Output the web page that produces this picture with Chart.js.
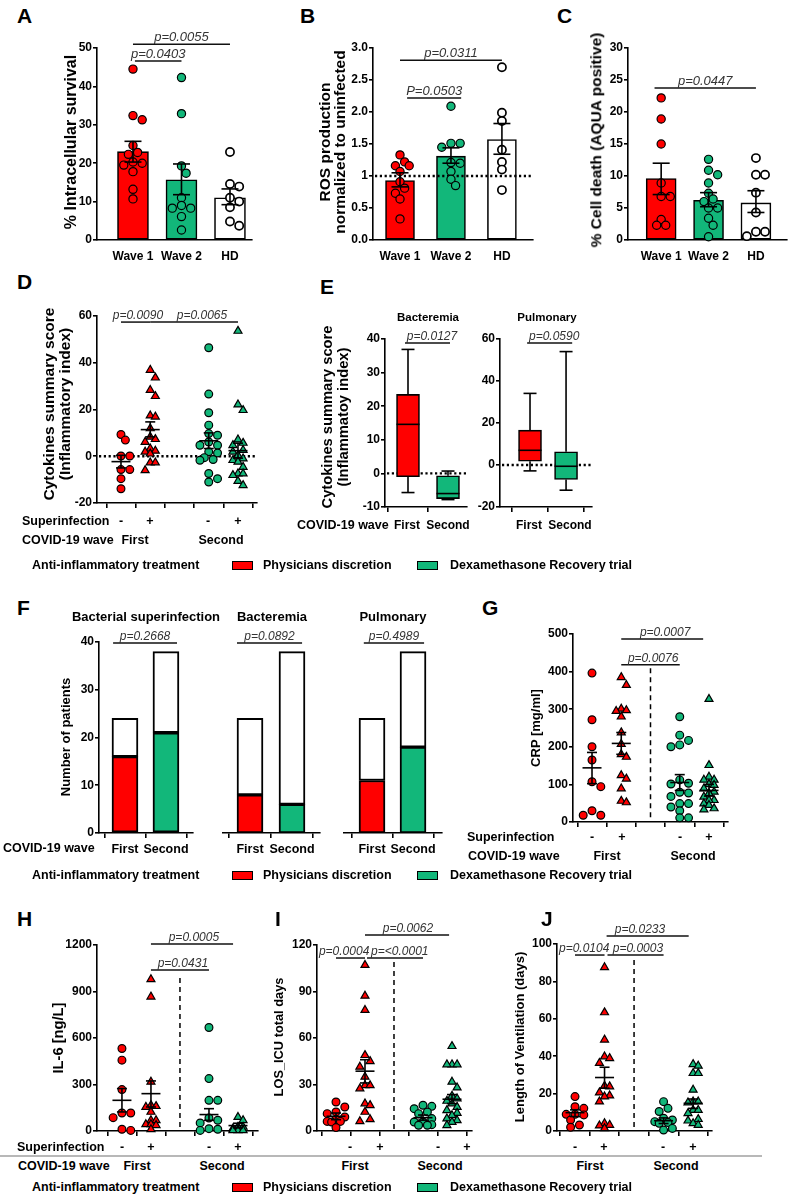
<!DOCTYPE html>
<html><head><meta charset="utf-8">
<script src="https://cdn.jsdelivr.net/npm/chart.js@4.4.0/dist/chart.umd.min.js"></script>
<style>
html,body{margin:0;padding:0;background:#fff;overflow:hidden}
#root{position:relative;width:793px;height:1199px;overflow:hidden;background:#fff}
canvas{position:absolute}
.t{position:absolute;white-space:nowrap;line-height:1;color:#000;font-family:"Liberation Sans",Arial,Helvetica,sans-serif;font-weight:bold}
</style></head><body><div id="root"></div>
<script>
// ---------------- DATA ----------------
const waveCats = ['Wave 1', 'Wave 2', 'HD'];
const waveLabels = ['First', 'Second'];
const superLabels = ['-', '+', '-', '+'];

// Panel A: % intracellular survival
const A_means = [23.0, 15.7, 11.0];
const A_semLo = [20.3, 11.8, 9.2];
const A_semHi = [25.7, 19.8, 13.3];
const A_wave1 = [44.5, 32.4, 31.3, 24.6, 22.8, 22.3, 20.3, 20.0, 19.5, 17.8, 13.2, 10.7];
const A_wave2 = [42.3, 32.9, 19.3, 17.4, 11.0, 9.0, 8.3, 8.3, 6.1, 2.6];
const A_hd = [22.9, 14.6, 13.9, 11.0, 10.0, 8.5, 4.8, 3.7];
const A_yTicks = [0, 10, 20, 30, 40, 50];

// Panel B: ROS production
const B_means = [0.93, 1.31, 1.57];
const B_semLo = [0.83, 1.20, 1.34];
const B_semHi = [1.05, 1.44, 1.82];
const B_wave1 = [1.33, 1.22, 1.16, 1.16, 1.07, 0.91, 0.81, 0.73, 0.64, 0.33];
const B_wave2 = [2.09, 1.51, 1.51, 1.45, 1.21, 1.20, 1.07, 0.95, 0.85];
const B_hd = [2.70, 1.99, 1.86, 1.41, 1.22, 1.10, 0.78];
const B_yTicks = [0, 0.5, 1, 1.5, 2, 2.5, 3];
const B_yLabels = ['0.0', '0.5', '1', '1.5', '2.0', '2.5', '3.0'];

// Panel C: % cell death
const C_means = [9.6, 6.2, 5.8];
const C_semLo = [7.1, 5.2, 4.3];
const C_semHi = [12.0, 7.4, 7.7];
const C_wave1 = [22.2, 18.9, 15.0, 8.9, 6.8, 6.8, 3.2, 2.3, 2.3];
const C_wave2 = [12.6, 10.9, 10.2, 8.9, 7.3, 6.4, 6.0, 5.0, 5.0, 3.4, 2.3, 0.5];
const C_hd = [12.8, 10.2, 10.2, 7.4, 4.3, 1.3, 1.3, 0.6];
const C_yTicks = [0, 5, 10, 15, 20, 25, 30];

// Panel D: cytokines summary score
const D_firstNeg = [9.3, 6.9, 0.1, 0.1, -5.7, -5.7, -9.6, -13.9];
const D_firstPos = [36.9, 33.6, 28.3, 25.7, 17.4, 16.9, 11.9, 8.3, 7.3, 6.1, 3.3, 2.3, 1.9, 1.1, -2.7, -2.7, -6.0];
const D_secondNeg = [46.4, 26.6, 18.6, 13.3, 9.7, 9.0, 6.1, 4.7, 4.7, 1.9, 1.4, -0.6, -1.4, -1.7, -7.4, -9.6, -11.0];
const D_secondPos = [53.6, 22.1, 19.7, 7.1, 5.7, 4.7, 2.6, 1.9, 0.4, -1.0, -1.7, -2.4, -4.6, -7.4, -7.4, -8.1, -10.6, -12.4];
const D_mean = [-2.3, 11.4, 6.6, 2.4];
const D_semLo = [-5.0, 8.3, 3.3, -0.8];
const D_semHi = [0.4, 14.7, 10.0, 5.6];
const D_yTicks = [-20, 0, 20, 40, 60];

// Panel E: box plots (min, q1, median, q3, max) for First / Second wave
const E_bactMin = [-5.7, -7.8], E_bactQ1 = [-1.0, -7.5], E_bactMed = [14.6, -6.0], E_bactQ3 = [23.5, -0.7], E_bactMax = [36.9, 0.7];
const E_pulmMin = [-2.8, -12.0], E_pulmQ1 = [1.8, -6.9], E_pulmMed = [7.0, -0.6], E_pulmQ3 = [16.6, 6.3], E_pulmMax = [34.1, 54.0];
const E_bactTicks = [-10, 0, 10, 20, 30, 40];
const E_pulmTicks = [-20, 0, 20, 40, 60];

// Panel F: number of patients (total per wave, and treated part)
const F_total = [24, 38];
const F_superinfection = [16, 21];
const F_bacteremia = [8, 6];
const F_pulmonary = [11, 18];
const F_yTicks = [0, 10, 20, 30, 40];

// Panel G: CRP
const G_firstNeg = [396, 272, 200, 165, 107, 94, 30, 18, 18];
const G_firstPos = [385, 364, 301, 297, 295, 280, 238, 207, 180, 173, 124, 115, 89, 56, 52];
const G_secondNeg = [280, 231, 217, 205, 200, 112, 103, 101, 79, 77, 68, 49, 49, 40, 30, 11, 11];
const G_secondPos = [327, 151, 120, 112, 112, 100, 98, 89, 80, 76, 67, 58, 58, 49, 45, 36, 33];
const G_mean = [144, 209, 105, 84];
const G_semLo = [102, 180, 84, 69];
const G_semHi = [185, 238, 126, 100];
const G_yTicks = [0, 100, 200, 300, 400, 500];

// Panel H: IL-6
const H_firstNeg = [532, 457, 267, 116, 116, 86, 11, 4];
const H_firstPos = [978, 866, 317, 166, 160, 155, 123, 69, 69, 43, 43, 37, 11];
const H_secondNeg = [668, 338, 198, 198, 84, 69, 52, 15, 11, 4];
const H_secondPos = [90, 69, 26, 26, 15, 4, 4, 4];
const H_mean = [198, 241, 106, 35];
const H_semLo = [123, 155, 69, 20];
const H_semHi = [274, 323, 144, 50];
const H_yTicks = [0, 300, 600, 900, 1200];

// Panel I: LOS ICU
const I_firstNeg = [18.7, 15.5, 12.3, 11.2, 9.0, 7.5, 6.2, 6.2, 5.8, 2.2];
const I_firstPos = [107, 87.2, 78, 48.9, 45, 41.4, 34.9, 29.5, 29.5, 27.4, 17.7, 16.6, 12.3, 7.5, 6.2];
const I_secondNeg = [16.6, 15.9, 14.4, 12.3, 11.2, 8.0, 5.8, 5.8, 4.1, 3.7, 3.7];
const I_secondPos = [54.7, 42.9, 42.9, 42.9, 31.7, 28.0, 22.6, 20.9, 19.4, 17.7, 15.5, 13.4, 11.6, 10.1, 8.0, 6.9, 5.8, 3.7];
const I_mean = [9.5, 38.6, 8.6, 20.5];
const I_semLo = [7.3, 31.0, 7.0, 17.7];
const I_semHi = [11.6, 46.0, 10.3, 23.5];
const I_yTicks = [0, 30, 60, 90, 120];

// Panel J: length of ventilation
const J_firstNeg = [18.4, 13.0, 12.1, 8.9, 8.9, 8.6, 5.9, 3.2, 2.0];
const J_firstPos = [87.5, 63.4, 48.8, 39.8, 38.9, 36.3, 24.1, 23.8, 20.5, 18.9, 18.4, 15.7, 4.1, 3.2, 2.9, 1.4];
const J_secondNeg = [15.7, 12.1, 10.4, 6.8, 5.9, 5.0, 4.5, 4.1, 1.4, 0.5];
const J_secondPos = [35.7, 34.8, 30.9, 30.9, 22.0, 15.7, 15.7, 15.2, 11.2, 11.2, 9.5, 6.3, 5.5, 4.1, 3.2];
const J_mean = [9.8, 28.6, 5.5, 14.8];
const J_semLo = [7.7, 22.9, 4.0, 12.1];
const J_semHi = [11.3, 34.1, 7.0, 17.1];
const J_yTicks = [0, 20, 40, 60, 80, 100];

// ---------------- RENDERING ----------------
const FF = '"Liberation Sans", Arial, Helvetica, sans-serif';
Chart.defaults.font.family = FF;
Chart.defaults.font.weight = 'bold';
Chart.defaults.font.size = 12;
Chart.defaults.color = '#000';
const RED = '#ff0000', GREEN = '#12b77a', WHITE = '#ffffff';
const root = document.getElementById('root');

function T(x, y, s, css, al) {
  const d = document.createElement('div');
  d.className = 't'; d.textContent = s;
  const tx = al === 'l' ? '0' : al === 'r' ? '-100%' : '-50%';
  d.style.cssText = `left:${x}px;top:${y}px;transform:translate(${tx},-50%);font-size:12.5px;` + (css || '');
  root.appendChild(d);
}
function RT(x, y, lines, size, lh) {
  const d = document.createElement('div');
  d.className = 't';
  lines.forEach((l, i) => { if (i) d.appendChild(document.createElement('br')); d.appendChild(document.createTextNode(l)); });
  d.style.cssText = `left:${x}px;top:${y}px;transform:translate(-50%,-50%) rotate(-90deg);text-align:center;font-size:${size}px;line-height:${lh || size + 2}px;`;
  root.appendChild(d);
}
function SW(x, y, c) {
  const d = document.createElement('div');
  d.style.cssText = `position:absolute;left:${x}px;top:${y - 4.5}px;width:21px;height:9px;box-sizing:border-box;border:1.5px solid #000;background:${c}`;
  root.appendChild(d);
}

// compact beeswarm: pixel offsets for points with similar values, limited spread
function swarm(vals, pyu, diam, cap) {
  const idx = vals.map((v, i) => i).sort((a, b) => vals[b] - vals[a]);
  const placed = [], off = new Array(vals.length).fill(0);
  const thr = diam * 0.8, step = diam * 0.5;
  for (const i of idx) {
    const py = vals[i] * pyu;
    let best = null, bestC = 0, bestD = -1;
    for (let k = 0; k < 80; k++) {
      const cand = k === 0 ? 0 : (k % 2 ? 1 : -1) * Math.ceil(k / 2) * step;
      if (Math.abs(cand) > cap) break;
      let md = Infinity;
      placed.forEach(p => { md = Math.min(md, Math.hypot(p.x - cand, p.y - py)); });
      if (md >= thr) { best = cand; break; }
      if (md > bestD) { bestD = md; bestC = cand; }
    }
    if (best == null) best = bestC;
    placed.push({x: best, y: py}); off[i] = best;
  }
  return off;
}

function makeAnnot(a) {
  const line = (ctx, x1, y1, x2, y2) => { ctx.beginPath(); ctx.moveTo(x1, y1); ctx.lineTo(x2, y2); ctx.stroke(); };
  const dotted = (chart) => {
    const {ctx, chartArea: ca, scales: {y}} = chart;
    const py = y.getPixelForValue(a.zero);
    ctx.save(); ctx.strokeStyle = '#000'; ctx.lineWidth = 2.4; ctx.setLineDash([2.2, 2.6]);
    line(ctx, ca.left + 2, py, ca.right, py); ctx.restore();
  };
  return {
    id: 'annot',
    beforeDatasetsDraw(chart) {
      const {ctx, scales: {x, y}} = chart;
      if (a.zero != null && a.zeroAfter == null) dotted(chart);
      if (a.vline) {
        ctx.save(); ctx.strokeStyle = '#000'; ctx.lineWidth = 1.5; ctx.setLineDash([5, 4]);
        const px = x.getPixelForValue(a.vline.x);
        line(ctx, px, y.getPixelForValue(a.vline.top), px, y.getPixelForValue(a.vline.bottom));
        ctx.restore();
      }
    },
    afterDatasetDraw(chart, args) {
      if (a.zero != null && a.zeroAfter === args.index) dotted(chart);
    },
    afterDatasetsDraw(chart) {
      const {ctx, scales: {x, y}} = chart;
      ctx.save(); ctx.strokeStyle = '#000'; ctx.lineWidth = 1.6; ctx.setLineDash([]);
      if (a.box) {
        const b = a.box;
        b.xs.forEach((xv, i) => {
          const px = x.getPixelForValue(xv);
          const pmin = y.getPixelForValue(b.min[i]), pq1 = y.getPixelForValue(b.q1[i]),
                pmed = y.getPixelForValue(b.med[i]), pq3 = y.getPixelForValue(b.q3[i]), pmax = y.getPixelForValue(b.max[i]);
          line(ctx, px, pq3, px, pmax); line(ctx, px - b.cap, pmax, px + b.cap, pmax);
          line(ctx, px, pq1, px, pmin); line(ctx, px - b.cap, pmin, px + b.cap, pmin);
          line(ctx, px - b.half, pmed, px + b.half, pmed);
        });
      }
      if (a.err) {
        const e = a.err;
        e.xs.forEach((xv, i) => {
          const px = x.getPixelForValue(xv);
          const pl = y.getPixelForValue(e.lo[i]), ph = y.getPixelForValue(e.hi[i]), pm = y.getPixelForValue(e.mean[i]);
          line(ctx, px, pl, px, ph);
          line(ctx, px - e.cap, pl, px + e.cap, pl);
          line(ctx, px - e.cap, ph, px + e.cap, ph);
          if (e.mw) line(ctx, px - e.mw, pm, px + e.mw, pm);
        });
      }
      if (a.br) {
        ctx.font = `italic ${a.brSize || 12}px ${FF}`;
        ctx.textAlign = 'center'; ctx.textBaseline = 'alphabetic';
        a.br.forEach(b => {
          const py = y.getPixelForValue(b.y);
          ctx.strokeStyle = '#111'; ctx.lineWidth = 1.5;
          line(ctx, x.getPixelForValue(b.x1), py, x.getPixelForValue(b.x2), py);
          ctx.fillStyle = '#333';
          ctx.fillText(b.t, x.getPixelForValue(b.tx != null ? b.tx : (b.x1 + b.x2) / 2), py - 3);
        });
      }
      ctx.restore();
    }
  };
}

function mk(box, o) {
  const padL = o.padL != null ? o.padL : 45, padT = o.padT != null ? o.padT : 36;
  const padR = o.padR != null ? o.padR : 12, padB = o.padB != null ? o.padB : 26;
  const W = Math.round(box.r - box.l + padL + padR), H = Math.round(box.b - box.t + padT + padB);
  const cv = document.createElement('canvas');
  cv.width = W; cv.height = H;
  cv.style.left = (box.l - padL) + 'px'; cv.style.top = (box.t - padT) + 'px';
  cv.style.width = W + 'px'; cv.style.height = H + 'px';
  root.appendChild(cv);
  new Chart(cv, {
    type: 'bar',
    data: {datasets: o.datasets},
    plugins: [makeAnnot(o.annot || {})],
    options: {
      responsive: false, maintainAspectRatio: false, animation: false, devicePixelRatio: 1, events: [],
      layout: {padding: {left: 0, top: padT, right: padR, bottom: 0}},
      plugins: {legend: {display: false}, tooltip: {enabled: false}},
      scales: {
        x: {type: 'linear', min: o.xr[0], max: o.xr[1], offset: false, stacked: !!o.stacked,
          afterBuildTicks: s => { s.ticks = o.xticks.map(v => ({value: v})); },
          afterFit: s => { s.height = padB; },
          ticks: {autoSkip: false, maxRotation: 0, minRotation: 0, padding: o.xPad != null ? o.xPad : 4,
            font: {size: o.xSize || 12.5, weight: 'bold'}, color: '#000',
            callback: (v, i) => (o.xlabels ? o.xlabels[i] : '')},
          grid: {display: true, drawOnChartArea: false, drawTicks: o.xTickMarks !== false, tickLength: 5, color: '#000', lineWidth: 1.6},
          border: {display: true, color: '#000', width: 1.6}},
        y: {type: 'linear', min: o.yr[0], max: o.yr[1], display: !o.hideY, stacked: !!o.stacked,
          afterBuildTicks: s => { s.ticks = o.yticks.map(v => ({value: v})); },
          afterFit: s => { s.width = padL; },
          ticks: {padding: 1, font: {size: 12, weight: 'bold'}, color: '#000',
            callback: (v, i) => (o.ylabels ? o.ylabels[i] : String(v))},
          grid: {display: true, drawOnChartArea: false, drawTicks: true, tickLength: 4, color: '#000', lineWidth: 1.6},
          border: {display: true, color: '#000', width: 1.6}}
      }
    }
  });
}

function scatterDS(vals, cx, box, xr, yr, style, color, r, cap) {
  const pyu = (box.b - box.t) / (yr[1] - yr[0]);
  const pxu = (box.r - box.l) / (xr[1] - xr[0]);
  const off = swarm(vals, pyu, 2 * r + 1, cap);
  return {type: 'scatter', order: 0, clip: false, showLine: false,
    data: vals.map((v, i) => ({x: cx + off[i] / pxu, y: v})),
    pointStyle: style, pointRadius: r, pointBackgroundColor: color, pointBorderColor: '#000', pointBorderWidth: 1.2};
}

// Bar + dots panels (A, B, C)
function barPanel(box, xr, yr, yticks, ylabels, means, lo, hi, groups, br, zero, barW, brSize) {
  const ds = [{type: 'bar', order: 2,
    data: means.map((m, i) => ({x: i + 1, y: m})),
    backgroundColor: [RED, GREEN, WHITE], borderColor: '#000', borderWidth: 1.6, borderSkipped: false, barThickness: barW}];
  groups.forEach((g, i) => ds.push(scatterDS(g, i + 1, box, xr, yr, 'circle', [RED, GREEN, WHITE][i], 4.1, 12)));
  ds[3].pointBorderWidth = 1.7;
  mk(box, {datasets: ds, xr, yr, xticks: [1, 2, 3], xlabels: waveCats, xTickMarks: false, xPad: 9, xSize: 12,
    yticks, ylabels, padR: box.padR,
    annot: {err: {xs: [1, 2, 3], mean: means, lo, hi, cap: 8.5, mw: 0}, br, brSize,
      zero: zero, zeroAfter: zero != null ? 0 : undefined}});
}

barPanel({l: 97, r: 252, t: 48, b: 240}, [0.258, 3.454], [0, 50], A_yTicks, null, A_means, A_semLo, A_semHi,
  [A_wave1, A_wave2, A_hd],
  [{x1: 1, x2: 3, y: 51.0, t: 'p=0.0055'}, {x1: 1.04, x2: 2, y: 46.6, t: 'p=0.0403'}], null, 31, 13);
barPanel({l: 373, r: 533, t: 48, b: 240}, [0.47, 3.61], [0, 3], B_yTicks, B_yLabels, B_means, B_semLo, B_semHi,
  [B_wave1, B_wave2, B_hd],
  [{x1: 1, x2: 3, y: 2.81, t: 'p=0.0311'}, {x1: 1.14, x2: 2.2, y: 2.22, t: 'P=0.0503'}], 1, 29, 13);
barPanel({l: 628, r: 789, t: 48, b: 240, padR: 4}, [0.30, 3.66], [0, 30], C_yTicks, null, C_means, C_semLo, C_semHi,
  [C_wave1, C_wave2, C_hd],
  [{x1: 0.86, x2: 3.0, y: 23.75, t: 'p=0.0447'}], null, 30, 13);

// Dot panels (D, G, H, I, J)
function dotPanel(box, xr, yr, yticks, vals, mean, lo, hi, br, extra) {
  const styles = ['circle', 'triangle', 'circle', 'triangle'];
  const colors = [RED, RED, GREEN, GREEN];
  const xs = [1, 2, 4, 5];
  const ds = vals.map((v, i) => scatterDS(v, xs[i], box, xr, yr, styles[i], colors[i], styles[i] === 'triangle' ? 4.6 : 3.9, 9));
  mk(box, {datasets: ds, xr, yr, xticks: [1, 2, 3, 4, 5], yticks,
    annot: Object.assign({err: {xs, mean, lo, hi, cap: 5, mw: 9.5}, br, brSize: 12}, extra || {})});
}

dotPanel({l: 97, r: 257, t: 316, b: 503}, [0.18, 5.65], [-20, 60], D_yTicks,
  [D_firstNeg, D_firstPos, D_secondNeg, D_secondPos], D_mean, D_semLo, D_semHi,
  [{x1: 1, x2: 2, y: 57.4, t: 'p=0.0090', tx: 1.58}, {x1: 2, x2: 5, y: 57.4, t: 'p=0.0065', tx: 3.77}],
  {zero: 0});
dotPanel({l: 573, r: 728, t: 634, b: 822}, [0.35, 5.65], [0, 500], G_yTicks,
  [G_firstNeg, G_firstPos, G_secondNeg, G_secondPos], G_mean, G_semLo, G_semHi,
  [{x1: 2, x2: 4.8, y: 487, t: 'p=0.0007', tx: 3.5}, {x1: 2, x2: 4, y: 418, t: 'p=0.0076', tx: 3.09}],
  {vline: {x: 3, top: 409, bottom: 0}});
dotPanel({l: 97, r: 258, t: 945, b: 1131}, [0.14, 5.69], [0, 1200], H_yTicks,
  [H_firstNeg, H_firstPos, H_secondNeg, H_secondPos], H_mean, H_semLo, H_semHi,
  [{x1: 2, x2: 4.83, y: 1206, t: 'p=0.0005', tx: 3.48}, {x1: 2, x2: 4, y: 1039, t: 'p=0.0431', tx: 3.1}],
  {vline: {x: 3, top: 987, bottom: 0}});
dotPanel({l: 317, r: 472, t: 945, b: 1131}, [0.345, 5.69], [0, 120], I_yTicks,
  [I_firstNeg, I_firstPos, I_secondNeg, I_secondPos], I_mean, I_semLo, I_semHi,
  [{x1: 2, x2: 4.9, y: 126.5, t: 'p=0.0062', tx: 3.48}, {x1: 1, x2: 2, y: 111.6, t: 'p=0.0004', tx: 1.28},
   {x1: 2.07, x2: 4, y: 111.6, t: 'p=<0.0001', tx: 3.2}],
  {vline: {x: 3, top: 109, bottom: 0}});
dotPanel({l: 557, r: 712, t: 944, b: 1131}, [0.39, 5.64], [0, 100], J_yTicks,
  [J_firstNeg, J_firstPos, J_secondNeg, J_secondPos], J_mean, J_semLo, J_semHi,
  [{x1: 2.07, x2: 4.85, y: 104.3, t: 'p=0.0233', tx: 3.2}, {x1: 1, x2: 2, y: 94.1, t: 'p=0.0104', tx: 1.31},
   {x1: 2.1, x2: 4, y: 94.1, t: 'p=0.0003', tx: 3.13}],
  {vline: {x: 3, top: 91.4, bottom: 0}});

// Box panels (E)
function boxPanel(box, xr, yr, yticks, mn, q1, med, q3, mx, br) {
  const ds = [{type: 'bar', order: 1,
    data: q1.map((v, i) => ({x: i + 1, y: [v, q3[i]]})),
    backgroundColor: [RED, GREEN], borderColor: '#000', borderWidth: 1.6, borderSkipped: false, barThickness: 23}];
  mk(box, {datasets: ds, xr, yr, xticks: [1, 2], yticks,
    annot: {zero: 0, box: {xs: [1, 2], min: mn, q1, med, q3, max: mx, half: 11.5, cap: 6.5}, br, brSize: 12}});
}
boxPanel({l: 385, r: 467, t: 339, b: 507}, [0.425, 2.475], [-10, 40], E_bactTicks,
  E_bactMin, E_bactQ1, E_bactMed, E_bactQ3, E_bactMax,
  [{x1: 0.925, x2: 2.05, y: 38.8, t: 'p=0.0127', tx: 1.6}]);
boxPanel({l: 500, r: 592, t: 339, b: 507}, [0.167, 2.72], [-20, 60], E_pulmTicks,
  E_pulmMin, E_pulmQ1, E_pulmMed, E_pulmQ3, E_pulmMax,
  [{x1: 0.92, x2: 2.17, y: 58.1, t: 'p=0.0590', tx: 1.67}]);

// Stacked panels (F)
function stackPanel(box, xr, treated, br, hideY) {
  const ds = [
    {type: 'bar', order: 1, stack: 's', data: treated.map((v, i) => ({x: i + 1, y: v})),
      backgroundColor: [RED, GREEN], borderColor: '#000', borderWidth: 2, borderSkipped: false, barThickness: 26},
    {type: 'bar', order: 1, stack: 's', data: treated.map((v, i) => ({x: i + 1, y: F_total[i] - v})),
      backgroundColor: WHITE, borderColor: '#000', borderWidth: 2, borderSkipped: false, barThickness: 26}];
  mk(box, {datasets: ds, xr, yr: [0, 40], stacked: true, xticks: [1, 2], xlabels: waveLabels, xPad: 4,
    yticks: F_yTicks, hideY, annot: {br, brSize: 12}});
}
stackPanel({l: 99, r: 193, t: 642, b: 833}, [0.366, 2.66], F_superinfection, [{x1: 0.71, x2: 2.27, y: 39.8, t: 'p=0.2668'}], false);
stackPanel({l: 223, r: 320, t: 642, b: 833}, [0.357, 2.667], F_bacteremia, [{x1: 0.69, x2: 2.24, y: 39.8, t: 'p=0.0892'}], true);
stackPanel({l: 344, r: 442, t: 642, b: 833}, [0.317, 2.707], F_pulmonary, [{x1: 0.8, x2: 2.27, y: 39.8, t: 'p=0.4989'}], true);

// ---------------- TEXT ----------------
const LET = 'font-size:21px;';
T(17, 15, 'A', LET, 'l'); T(300, 15, 'B', LET, 'l'); T(557, 15, 'C', LET, 'l');
T(17, 281, 'D', LET, 'l'); T(320, 286, 'E', LET, 'l');
T(17, 607, 'F', LET, 'l'); T(482, 607, 'G', LET, 'l');
T(17, 918, 'H', LET, 'l'); T(275, 918, 'I', LET, 'l'); T(541, 918, 'J', LET, 'l');

RT(71, 142, ['% Intracellular survival'], 16);
RT(332, 142, ['ROS production', 'normalized to uninfected'], 15.5, 14.5);
RT(596, 140, ['% Cell death (AQUA positive)'], 15.5);
RT(57, 404, ['Cytokines summary score', '(Inflammatory index)'], 15.5, 16);
RT(335, 417, ['Cytokines summary score', '(Inflammatoy index)'], 14.7, 16);
RT(65, 737, ['Number of patients'], 13);
RT(535, 728, ['CRP [mg/ml]'], 13);
RT(58, 1038, ['IL-6 [ng/L]'], 14.7);
RT(279, 1037, ['LOS_ICU total days'], 12.8);
RT(519, 1037, ['Length of Ventilation (days)'], 13);

T(428, 318, 'Bacteremia', 'font-size:11.5px;');
T(547, 318, 'Pulmonary', 'font-size:11.5px;');
T(146, 616, 'Bacterial superinfection', 'font-size:13px;');
T(272, 616, 'Bacteremia', 'font-size:13px;');
T(393, 616, 'Pulmonary', 'font-size:13px;');

function legend(y) {
  T(32, y, 'Anti-inflammatory treatment', '', 'l');
  SW(232, y, RED); T(263, y, 'Physicians discretion', '', 'l');
  SW(417, y, GREEN); T(450, y, 'Dexamethasone Recovery trial', '', 'l');
}
// D rows
T(22, 521, 'Superinfection', '', 'l');
[121, 150, 208, 238].forEach((x, i) => T(x, 521, superLabels[i]));
T(22, 540, 'COVID-19 wave', '', 'l'); T(135, 540, waveLabels[0]); T(221, 540, waveLabels[1]);
legend(565);
// E
T(297, 525, 'COVID-19 wave', '', 'l');
T(407, 525, waveLabels[0], 'font-size:12px;'); T(448, 525, waveLabels[1], 'font-size:12px;');
T(529, 525, waveLabels[0], 'font-size:12px;'); T(570, 525, waveLabels[1], 'font-size:12px;');
// F
T(3, 848, 'COVID-19 wave', '', 'l');
legend(875);
// G
T(467, 837, 'Superinfection', '', 'l');
[592, 622, 680, 709].forEach((x, i) => T(x, 837, superLabels[i]));
T(468, 856, 'COVID-19 wave', '', 'l'); T(607, 856, waveLabels[0]); T(693, 856, waveLabels[1]);
// H, I, J
T(17, 1147, 'Superinfection', '', 'l');
[122, 151, 209, 238, 350, 380, 438, 467, 575, 604, 663, 693].forEach((x, i) => T(x, 1147, superLabels[i % 4]));
const gl = document.createElement('div');
gl.style.cssText = 'position:absolute;left:0;top:1155px;width:762px;height:1.5px;background:#b8b8b8';
root.appendChild(gl);
T(18, 1166, 'COVID-19 wave', '', 'l');
[137, 355, 590].forEach(x => T(x, 1166, waveLabels[0]));
[222, 440, 676].forEach(x => T(x, 1166, waveLabels[1]));
legend(1187);
</script></body></html>
